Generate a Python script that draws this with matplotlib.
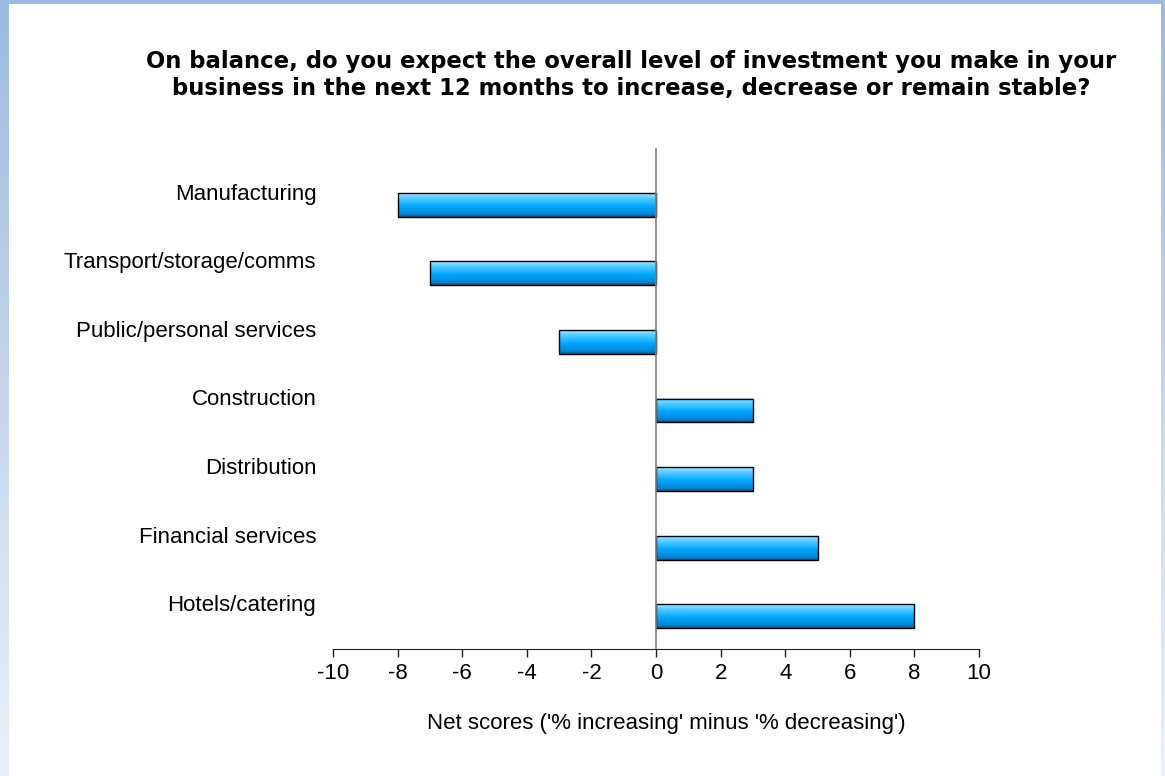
import matplotlib.pyplot as plt
import matplotlib.transforms as mtransforms
import numpy as np
from matplotlib.colors import LinearSegmentedColormap
from matplotlib.patches import Rectangle

categories = [
    "Manufacturing",
    "Transport/storage/comms",
    "Public/personal services",
    "Construction",
    "Distribution",
    "Financial services",
    "Hotels/catering",
]
net_scores = [-8, -7, -3, 3, 3, 5, 8]
x_ticks = [-10, -8, -6, -4, -2, 0, 2, 4, 6, 8, 10]

title = ("On balance, do you expect the overall level of investment you make in your\n"
         "business in the next 12 months to increase, decrease or remain stable?")
x_label = "Net scores ('% increasing' minus '% decreasing')"

W, H = 1165, 776
fig = plt.figure(figsize=(W / 100, H / 100), dpi=100)

# blue frame that fades towards the bottom
bg = fig.add_axes([0, 0, 1, 1], zorder=-2)
frame = LinearSegmentedColormap.from_list("frame", ["#eaf0f9", "#c4d6ec", "#9bbbe0"])
bg.imshow(np.linspace(0, 1, 256).reshape(-1, 1), cmap=frame, aspect="auto",
          origin="lower", extent=[0, 1, 0, 1])
bg.set_xlim(0, 1)
bg.set_ylim(0, 1)
bg.axis("off")
fig.patches.append(Rectangle((9 / W, 0), (1161 - 9) / W, (H - 4) / H,
                             transform=fig.transFigure, facecolor="white",
                             edgecolor="none", zorder=-1))

ax = fig.add_axes([333 / W, 127 / H, (979 - 333) / W, (649 - 148) / H])
ax.patch.set_alpha(0)

bar_cmap = LinearSegmentedColormap.from_list(
    "bar", [(0.0, "#005a9c"), (0.12, "#0088d8"), (0.45, "#00a8ff"),
            (0.8, "#5ccaff"), (1.0, "#a8e6ff")])
grad = np.linspace(0, 1, 64).reshape(-1, 1)

n = len(categories)
ypos = np.arange(n)[::-1]
bar_h = 0.35
bars = ax.barh(ypos, net_scores, height=bar_h, facecolor="none",
               edgecolor="black", linewidth=1.0, zorder=3)
for rect in bars:
    x0, y0 = rect.get_x(), rect.get_y()
    w, h = rect.get_width(), rect.get_height()
    ax.imshow(grad, cmap=bar_cmap, aspect="auto", origin="lower",
              extent=[min(x0, x0 + w), max(x0, x0 + w), y0, y0 + h], zorder=2)

ax.axvline(0, color="#808080", linewidth=1.2, zorder=4)
ax.set_xlim(-10, 10)
ax.set_ylim(-0.48, n - 1 + 0.83)
ax.set_xticks(x_ticks)
ax.set_xticklabels([str(t) for t in x_ticks])
ax.set_yticks(ypos)
ax.set_yticklabels(categories)

for side in ("left", "top", "right"):
    ax.spines[side].set_visible(False)
ax.spines["bottom"].set_color("#202020")
ax.tick_params(axis="x", direction="out", length=6, width=1, color="#202020",
               labelsize=16, pad=4)
ax.tick_params(axis="y", length=0, labelsize=16, pad=12)
for lbl in ax.get_xticklabels() + ax.get_yticklabels():
    lbl.set_fontfamily("Liberation Sans")

# category names sit a little above their bars
lift = mtransforms.ScaledTranslation(0, 13 / 100, fig.dpi_scale_trans)
for lbl in ax.get_yticklabels():
    lbl.set_transform(lbl.get_transform() + lift)

fig.text(631 / W, 1 - 75 / H, title, ha="center", va="center", fontsize=16.4,
         fontweight="bold", family="DejaVu Sans", linespacing=1.22)
fig.text(666 / W, 1 - 724 / H, x_label, ha="center", va="center", fontsize=16,
         family="Liberation Sans")

fig.savefig("out.png", dpi=100)
